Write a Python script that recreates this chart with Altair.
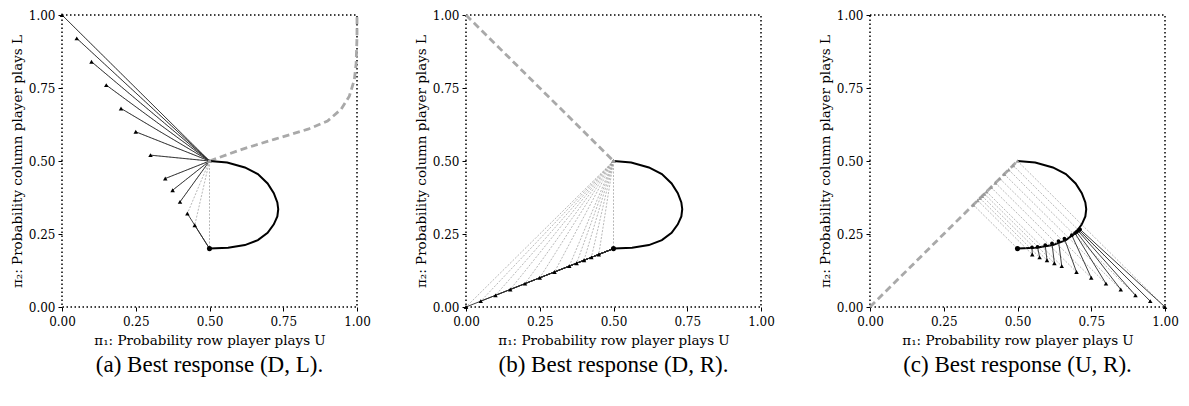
import altair as alt
import pandas as pd

# ---------------- data ----------------
TICKS = [0.0, 0.25, 0.5, 0.75, 1.0]

# closed "D"-shaped trajectory (shared by all panels)
CURVE_X = [0.50, 0.56, 0.62, 0.664, 0.697, 0.718, 0.730, 0.733, 0.730, 0.718, 0.697, 0.664, 0.62, 0.563, 0.50]
CURVE_Y = [0.50, 0.495, 0.478, 0.455, 0.423, 0.39, 0.358, 0.335, 0.31, 0.283, 0.254, 0.229, 0.212, 0.203, 0.20]

# panel (a)
A_DASH_X = [0.50, 0.61, 0.722, 0.834, 0.90, 0.946, 0.974, 0.991, 0.997, 1.0, 1.0]
A_DASH_Y = [0.50, 0.54, 0.575, 0.609, 0.637, 0.677, 0.722, 0.778, 0.834, 0.925, 1.0]
A_TRI_X = [0.0, 0.05, 0.10, 0.15, 0.20, 0.25, 0.30, 0.35, 0.375, 0.40, 0.425, 0.45]
A_TRI_Y = [1.0, 0.92, 0.84, 0.76, 0.68, 0.60, 0.52, 0.44, 0.40, 0.36, 0.32, 0.28]
A_END_X = [0.5, 0.5, 0.5, 0.5, 0.5, 0.5, 0.5, 0.5, 0.5, 0.5, 0.5, 0.5]
A_END_Y = [0.5, 0.5, 0.5, 0.5, 0.5, 0.5, 0.5, 0.5, 0.5, 0.5, 0.2, 0.2]
A_BR_X = [0.5] * 12
A_BR_Y = [0.5] * 12

# panel (b)
B_DASH_X = [0.0, 0.5]
B_DASH_Y = [1.0, 0.5]
B_TRI_X = [0.0, 0.05, 0.10, 0.15, 0.20, 0.25, 0.30, 0.35, 0.375, 0.40, 0.425, 0.45]
B_TRI_Y = [0.0, 0.02, 0.04, 0.06, 0.08, 0.10, 0.12, 0.14, 0.15, 0.16, 0.17, 0.18]
B_END_X = [0.5] * 12
B_END_Y = [0.2] * 12
B_BR_X = [0.5] * 12
B_BR_Y = [0.5] * 12

# panel (c)
C_DASH_X = [0.0, 0.5]
C_DASH_Y = [0.0, 0.5]
C_TRI_X = [0.55, 0.575, 0.60, 0.625, 0.65, 0.70, 0.75, 0.80, 0.85, 0.90, 0.95, 1.0]
C_TRI_Y = [0.18, 0.17, 0.16, 0.15, 0.14, 0.12, 0.10, 0.08, 0.06, 0.04, 0.02, 0.0]
C_END_X = [0.549, 0.568, 0.594, 0.617, 0.639, 0.659, 0.684, 0.695, 0.700, 0.705, 0.708, 0.712]
C_END_Y = [0.204, 0.206, 0.212, 0.218, 0.226, 0.234, 0.246, 0.253, 0.257, 0.261, 0.264, 0.266]
C_BR_X = [0.365, 0.3725, 0.38, 0.3875, 0.395, 0.41, 0.425, 0.44, 0.455, 0.47, 0.485, 0.5]
C_BR_Y = [0.365, 0.3725, 0.38, 0.3875, 0.395, 0.41, 0.425, 0.44, 0.455, 0.47, 0.485, 0.5]

START_X, START_Y = 0.5, 0.2
START_BR = {"a": (0.5, 0.5), "b": (0.5, 0.5), "c": (0.35, 0.35)}

CAPTIONS = ["(a) Best response (D, L).", "(b) Best response (D, R).", "(c) Best response (U, R)."]
X_TITLE = "π₁: Probability row player plays U"
Y_TITLE = "π₂: Probability column player plays L"

SERIF = "DejaVu Serif"


def xenc(field="x"):
    return alt.X(f"{field}:Q", scale=alt.Scale(domain=[0, 1], nice=False, zero=False),
                 axis=alt.Axis(values=TICKS, format=".2f", title=X_TITLE))


def yenc(field="y"):
    return alt.Y(f"{field}:Q", scale=alt.Scale(domain=[0, 1], nice=False, zero=False),
                 axis=alt.Axis(values=TICKS, format=".2f", title=Y_TITLE))


def panel(key, dash_x, dash_y, tri_x, tri_y, end_x, end_y, br_x, br_y, caption, dots_on_curve):
    dash = pd.DataFrame({"x": dash_x, "y": dash_y, "o": range(len(dash_x))})
    curve = pd.DataFrame({"x": CURVE_X, "y": CURVE_Y, "o": range(len(CURVE_X))})
    sbx, sby = START_BR[key]
    gray = pd.DataFrame({"x": list(br_x) + [sbx], "y": list(br_y) + [sby],
                         "x2": list(tri_x) + [START_X], "y2": list(tri_y) + [START_Y]})
    black = pd.DataFrame({"x": tri_x, "y": tri_y, "x2": end_x, "y2": end_y})
    tri = pd.DataFrame({"x": tri_x, "y": tri_y})
    brp = pd.DataFrame({"x": list(br_x) + [sbx], "y": list(br_y) + [sby]})
    start = pd.DataFrame({"x": [START_X], "y": [START_Y]})
    ends = pd.DataFrame({"x": end_x, "y": end_y})

    layers = [
        alt.Chart(dash).mark_line(color="#a9a9a9", strokeWidth=2.8, strokeDash=[7, 4])
        .encode(x=xenc(), y=yenc(), order="o:Q"),
        alt.Chart(curve).mark_line(color="black", strokeWidth=2)
        .encode(x=xenc(), y=yenc(), order="o:Q"),
        alt.Chart(gray).mark_rule(color="#999999", strokeWidth=0.7, strokeDash=[2, 1.5])
        .encode(x=xenc(), y=yenc(), x2="x2:Q", y2="y2:Q"),
        alt.Chart(black).mark_rule(color="#2a2a2a", strokeWidth=0.9)
        .encode(x=xenc(), y=yenc(), x2="x2:Q", y2="y2:Q"),
        alt.Chart(brp).mark_point(shape="triangle-up", filled=True, color="#9a9a9a", size=18, opacity=1)
        .encode(x=xenc(), y=yenc()),
        alt.Chart(tri).mark_point(shape="triangle-up", filled=True, color="black", size=20, opacity=1)
        .encode(x=xenc(), y=yenc()),
    ]
    if dots_on_curve:
        layers.append(alt.Chart(ends).mark_point(shape="circle", filled=True, color="black", size=14, opacity=1)
                      .encode(x=xenc(), y=yenc()))
    layers.append(alt.Chart(start).mark_point(shape="circle", filled=True, color="black", size=26, opacity=1)
                  .encode(x=xenc(), y=yenc()))
    return alt.layer(*layers).properties(
        width=295, height=292,
        title=alt.TitleParams(caption, orient="bottom", font="Liberation Serif", fontSize=23,
                              fontWeight="normal", color="black", offset=7, anchor="middle"),
    )


pa = panel("a", A_DASH_X, A_DASH_Y, A_TRI_X, A_TRI_Y, A_END_X, A_END_Y, A_BR_X, A_BR_Y, CAPTIONS[0], False)
pb = panel("b", B_DASH_X, B_DASH_Y, B_TRI_X, B_TRI_Y, B_END_X, B_END_Y, B_BR_X, B_BR_Y, CAPTIONS[1], False)
pc = panel("c", C_DASH_X, C_DASH_Y, C_TRI_X, C_TRI_Y, C_END_X, C_END_Y, C_BR_X, C_BR_Y, CAPTIONS[2], True)

chart = (
    alt.hconcat(pa, pb, pc, spacing=41)
    .properties(padding={"left": 1, "top": 0, "right": 0, "bottom": 0}, background="white")
    .configure_view(stroke="black", strokeDash=[1.5, 2.5], strokeWidth=1.5)
    .configure_axis(domain=False, grid=False, tickColor="black", tickSize=4, tickWidth=1,
                    labelFont=SERIF, labelFontSize=12, labelColor="black",
                    labelFlush=False, titleFont=SERIF, titleFontSize=13.5, titleFontWeight="normal",
                    titleColor="black")
    .configure_axisX(labelPadding=5, titlePadding=6)
    .configure_axisY(labelPadding=3, titlePadding=4)
)

chart.save("out.html", embed_options={"renderer": "svg", "actions": False})
